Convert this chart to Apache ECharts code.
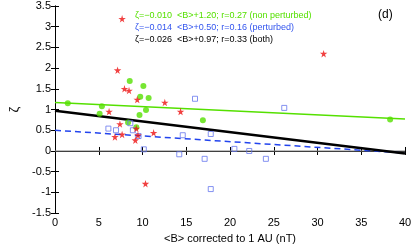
<!DOCTYPE html>
<html><head><meta charset="utf-8">
<script src="https://cdn.jsdelivr.net/npm/echarts@6/dist/echarts.min.js"></script>
<style>html,body{margin:0;padding:0;background:#fff}#c{width:415px;height:249px}</style>
</head><body><div id="c"></div>
<script>
const nonPerturbed = [[1.46,1.15],[5.36,1.08],[5.1,0.90],[8.54,1.69],[10.1,1.57],[9.74,1.31],[10.7,1.28],[10.4,0.99],[9.66,0.87],[8.35,0.69],[9.29,0.57],[16.9,0.74],[38.3,0.76]];
const stars = [[7.67,3.19],[7.15,1.95],[7.94,1.50],[8.46,1.46],[9.40,1.24],[12.55,1.17],[6.18,0.95],[14.35,0.95],[7.42,0.65],[9.29,0.54],[11.27,0.44],[7.67,0.40],[6.85,0.34],[9.48,0.38],[9.18,0.26],[10.34,-0.79],[30.7,2.35]];
const perturbed = [[6.1,0.54],[6.97,0.50],[8.61,0.67],[8.9,0.50],[9.55,0.36],[10.15,0.04],[14.2,-0.08],[14.6,0.38],[17.8,0.41],[17.1,-0.19],[17.8,-0.92],[20.5,0.05],[22.2,0.0],[24.1,-0.19],[16.0,1.26],[26.2,1.04]];
const fitNon = [[0,1.17],[40,0.77]];
const fitPert = [[0,0.50],[40,-0.05]];
const fitBoth = [[0,0.97],[40,-0.06]];
const zeroLine = [[0,0],[40,0]];
const legendLines = [
  'ζ=−0.010  <B>+1.20; r=0.27 (non perturbed)',
  'ζ=−0.014  <B>+0.50; r=0.16 (perturbed)',
  'ζ=−0.026  <B>+0.97; r=0.33 (both)'
];
const legendColors = ['#55e000','#3355ee','#000'];
const STAR = 'path://M50,0 L61,35 L98,35 L68,57 L79,91 L50,70 L21,91 L32,57 L2,35 L39,35 Z';
const FONT = 'Liberation Sans, Arial, sans-serif';
const chart = echarts.init(document.getElementById('c'), null, {renderer:'canvas'});
const axLine = {show:true, lineStyle:{color:'#000', width:1}};
const tick = {show:true, inside:true, length:4, lineStyle:{color:'#000'}};
chart.setOption({
  animation:false,
  grid:{left:49, right:10, top:6, bottom:25},
  xAxis:[
    {type:'value', min:0, max:40, interval:5, axisLine:axLine, axisTick:tick, splitLine:{show:false},
     axisLabel:{color:'#000', fontSize:11, fontFamily:FONT, margin:4},
     name:'<B> corrected to 1 AU (nT)', nameLocation:'middle', nameGap:14,
     nameTextStyle:{color:'#000', fontSize:11, fontFamily:FONT}},
    {type:'value', position:'top', min:0, max:40, interval:5, axisLine:axLine, axisTick:tick, splitLine:{show:false}, axisLabel:{show:false}}
  ],
  yAxis:[
    {type:'value', min:-1.5, max:3.5, interval:0.5, axisLine:axLine, axisTick:tick, splitLine:{show:false},
     axisLabel:{color:'#000', fontSize:11, fontFamily:FONT, margin:4},
     name:'ζ', nameLocation:'middle', nameGap:34, nameRotate:90,
     nameTextStyle:{color:'#000', fontSize:13, fontFamily:FONT}},
    {type:'value', position:'right', min:-1.5, max:3.5, interval:0.5, axisLine:axLine, axisTick:tick, splitLine:{show:false}, axisLabel:{show:false}}
  ],
  series:[
    {type:'line', data:zeroLine, symbol:'none', lineStyle:{color:'#888', width:1}, z:1},
    {type:'line', data:fitNon, symbol:'none', lineStyle:{color:'#55e000', width:1.5}, z:2},
    {type:'line', data:fitPert, symbol:'none', lineStyle:{color:'#2244ee', width:1.5, type:[6,4]}, z:2},
    {type:'line', data:fitBoth, symbol:'none', lineStyle:{color:'#000', width:2.5}, z:2},
    {type:'scatter', data:nonPerturbed, symbol:'circle', symbolSize:6, itemStyle:{color:'#55e000'}, z:3},
    {type:'scatter', data:perturbed, symbol:'rect', symbolSize:5, itemStyle:{color:'rgba(0,0,0,0)', borderColor:'#6677ee', borderWidth:1}, z:3},
    {type:'scatter', data:stars, symbol:STAR, symbolSize:7.5, itemStyle:{color:'#ee1111'}, z:4}
  ],
  graphic:[
    ...legendLines.map((t,i)=>({type:'text', left:135, top:11+i*12, style:{text:t, fill:legendColors[i], font:'9px '+FONT}})),
    {type:'text', left:378, top:9, style:{text:'(d)', fill:'#000', font:'12px '+FONT}}
  ]
});
</script></body></html>
